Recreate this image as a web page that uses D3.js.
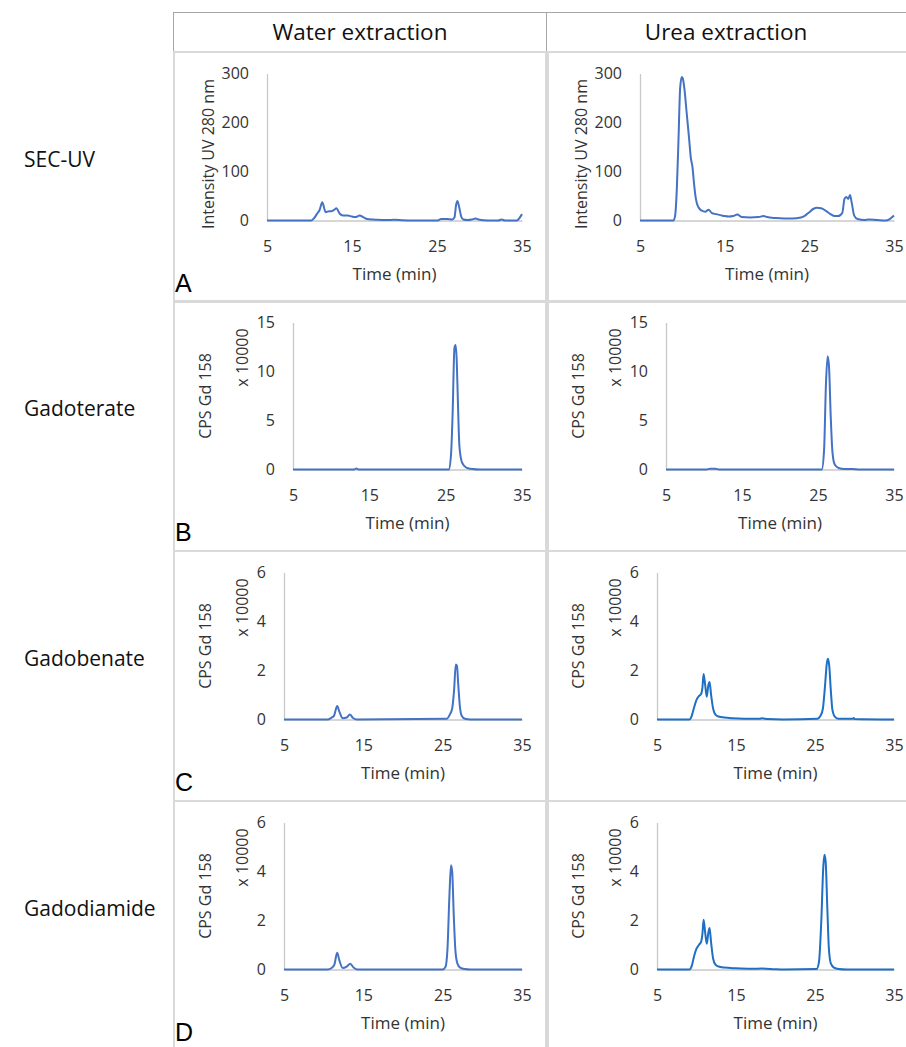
<!DOCTYPE html>
<html>
<head>
<meta charset="utf-8">
<script src="https://cdnjs.cloudflare.com/ajax/libs/d3/7.8.5/d3.min.js"></script>
<style>
  body { margin: 0; background: #fff; }
  svg { display: block; }
</style>
</head>
<body>
<script>
// column / row headings
const columns = ["Water extraction", "Urea extraction"];
const rowLabels = ["SEC-UV", "Gadoterate", "Gadobenate", "Gadodiamide"];
const panelLetters = ["A", "B", "C", "D"];

// tick values
const timeTicks = [5, 15, 25, 35];
const uvTicks = [0, 100, 200, 300];
const gdTicksB = [0, 5, 10, 15];
const gdTicksCD = [0, 2, 4, 6];

// SEC-UV traces, [time (min), intensity]
const uvWater = [[5,0],[10.2,0],[10.5,4],[10.9,14],[11.2,22],[11.5,37],[11.9,17],[12.3,19],[12.6,19],[13.0,23],[13.15,25],[13.6,13],[14.0,10],[14.5,10],[15.0,8],[15.4,7],[15.9,10],[16.3,7],[16.8,3],[17.5,2],[18,1.5],[19,1],[20,1.5],[21,0.5],[22,0],[25,0],[25.5,3],[26.2,3],[26.8,2],[27.05,6],[27.25,32],[27.4,40],[27.6,28],[27.85,8],[28.1,2],[28.6,1],[29.1,2],[29.5,4],[30,1.5],[31,0],[32.2,0],[32.6,2],[33,0],[34.4,0],[34.7,5],[35,13]];
const uvUrea = [[5,0],[8.95,0],[9.15,10],[9.35,65],[9.55,167],[9.74,270],[9.93,293],[10.05,290],[10.25,268],[10.5,222],[10.8,167],[11.0,128],[11.2,109],[11.4,72],[11.6,44],[11.9,27],[12.3,20],[12.7,18],[13.1,22],[13.5,15],[14,13],[14.5,11],[15,9],[15.5,8],[16,9],[16.5,12],[17,7],[18,6],[19,7],[19.6,9],[20,7],[21,5],[22,4],[23,4],[24,6],[24.5,10],[25,17],[25.5,24],[25.9,26],[26.4,25],[27,19],[27.5,13],[28,9],[28.4,9],[28.9,16],[29.15,44],[29.35,48],[29.6,44],[29.8,52],[30.0,37],[30.3,10],[30.7,3],[31.5,1],[32,2],[33,1],[34,0],[34.5,3],[35,10]];

// Gd 158 traces, [time (min), CPS / 10000]
const gdtWater = [[5,0],[13.0,0],[13.3,0.1],[13.6,0],[25.4,0],[25.7,1.5],[25.9,5.4],[26.15,12.4],[26.3,12.7],[26.45,11.1],[26.6,7],[26.8,2.4],[27.15,0.7],[27.7,0.2],[28.5,0.05],[29.5,0],[35,0]];
const gdtUrea = [[5,0],[10.3,0],[10.8,0.08],[11.5,0.08],[12,0],[25.5,0],[25.8,2],[26.05,8.8],[26.27,11.55],[26.45,10.5],[26.67,5.5],[26.9,1.8],[27.2,0.5],[27.7,0.15],[28.5,0.05],[29.5,0.05],[30.5,0],[35,0]];
const gdbWater = [[5,0],[10.5,0],[11.0,0.08],[11.3,0.15],[11.7,0.55],[12.0,0.3],[12.4,0.05],[12.9,0.08],[13.3,0.2],[13.7,0.06],[14.2,0],[25.5,0.03],[25.9,0.2],[26.2,0.45],[26.45,1.25],[26.65,2.25],[26.8,2.2],[26.95,1.5],[27.15,0.6],[27.4,0.15],[27.8,0.03],[28.5,0],[35,0]];
const gdbUrea = [[5,0],[9.1,0],[9.4,0.15],[9.7,0.5],[10.0,0.8],[10.3,0.95],[10.6,1.05],[10.75,1.3],[10.9,1.86],[11.1,1.4],[11.3,0.93],[11.5,1.4],[11.65,1.53],[11.85,1.0],[12.1,0.45],[12.4,0.2],[12.8,0.12],[13.5,0.08],[14.5,0.05],[16,0.03],[18,0.03],[18.3,0.05],[19,0.02],[21,0],[25.3,0.03],[25.7,0.15],[26.0,0.45],[26.25,1.3],[26.5,2.3],[26.65,2.48],[26.8,2.2],[27.0,1.2],[27.2,0.4],[27.5,0.12],[28,0.03],[29.8,0.03],[29.9,0.06],[30,0.02],[35,0]];
const gddWater = [[5,0],[10.5,0],[11.0,0.06],[11.35,0.2],[11.7,0.68],[12.0,0.35],[12.4,0.06],[12.9,0.12],[13.35,0.23],[13.8,0.07],[14.3,0],[25.0,0],[25.35,0.1],[25.6,0.8],[25.85,3.0],[26.05,4.26],[26.2,4.0],[26.4,2.2],[26.6,0.8],[26.85,0.25],[27.2,0.08],[27.8,0.02],[28.5,0],[35,0]];
const gddUrea = [[5,0],[9.1,0],[9.4,0.15],[9.7,0.55],[10.0,0.85],[10.3,1.0],[10.6,1.15],[10.75,1.45],[10.9,2.03],[11.1,1.5],[11.3,1.05],[11.5,1.5],[11.65,1.69],[11.85,1.1],[12.1,0.45],[12.4,0.2],[12.8,0.12],[13.5,0.08],[15,0.05],[17,0.03],[18.3,0.04],[20,0.01],[21,0],[25.2,0.02],[25.5,0.3],[25.8,2.0],[26.05,4.2],[26.2,4.68],[26.35,4.4],[26.55,2.6],[26.75,0.9],[27.0,0.25],[27.4,0.08],[28,0.02],[29,0],[35,0]];

// one row of the figure per compound
const rows = [
  { ticks: uvTicks,   series: [uvWater, uvUrea],   title: ["Intensity UV 280 nm"] },
  { ticks: gdTicksB,  series: [gdtWater, gdtUrea], title: ["CPS Gd 158", "x 10000"] },
  { ticks: gdTicksCD, series: [gdbWater, gdbUrea], title: ["CPS Gd 158", "x 10000"] },
  { ticks: gdTicksCD, series: [gddWater, gddUrea], title: ["CPS Gd 158", "x 10000"] }
];

const W = 906, H = 1047;
const colX = [173, 547], colW = [374, 362];
const rowY = [52, 301, 551, 801], rowH = 250;
const plotLeft = [94, 120, 111, 111];   // offset of y axis inside a cell, per row
const chartFont = "'Open Sans', sans-serif";

const svg = d3.select("body").append("svg")
    .attr("width", W)
    .attr("height", H);

svg.append("rect").attr("width", W).attr("height", H).attr("fill", "#fff");

// header box
svg.append("rect")
    .attr("x", colX[0] + 0.5).attr("y", 12.5)
    .attr("width", W - colX[0] + 5).attr("height", 40)
    .attr("fill", "none").attr("stroke", "#a6a6a6");
svg.append("line")
    .attr("x1", colX[1] - 0.5).attr("x2", colX[1] - 0.5)
    .attr("y1", 12).attr("y2", 53)
    .attr("stroke", "#a6a6a6");

svg.selectAll("text.col")
  .data(columns)
  .enter().append("text")
    .attr("class", "col")
    .attr("x", (d, i) => colX[i] + colW[i] / 2 - (i ? 2 : 0))
    .attr("y", 40)
    .attr("text-anchor", "middle")
    .style("font-family", chartFont)
    .style("font-size", "22.5px")
    .attr("fill", "#111")
    .text(d => d);

// row labels
svg.selectAll("text.row")
  .data(rowLabels)
  .enter().append("text")
    .attr("class", "row")
    .attr("x", 24)
    .attr("y", (d, i) => rowY[i] + 115)
    .style("font-family", chartFont)
    .style("font-size", "21px")
    .attr("fill", "#111")
    .text(d => d);

let line = d3.line()
    .x(d => d[0])
    .y(d => d[1])
    .curve(d3.curveMonotoneX);

rows.forEach(function(row, r) {
  columns.forEach(function(col, c) {
    let cx = colX[c], cy = rowY[r];

    // chart frame
    svg.append("rect")
        .attr("x", cx + 1)
        .attr("y", cy)
        .attr("width", colW[c] - 2)
        .attr("height", r == 3 ? H - cy + 5 : rowH)
        .attr("fill", "none")
        .attr("stroke", "#d9d9d9")
        .attr("stroke-width", 2);

    let left = cx + plotLeft[r] - c,
        right = cx + (c ? 347 : 349),
        top = cy + 21.5,
        bottom = cy + 168.5;

    let x = d3.scaleLinear().domain([5, 35]).range([left, right]);
    let y = d3.scaleLinear().domain([0, d3.max(row.ticks)]).range([bottom, top]);

    let g = svg.append("g");

    let xAxis = g.append("g")
        .attr("transform", `translate(0,${bottom})`)
        .call(d3.axisBottom(x).tickValues(timeTicks).tickFormat(d3.format("d"))
          .tickSize(0).tickPadding(20));

    let yAxis = g.append("g")
        .attr("transform", `translate(${left},0)`)
        .call(d3.axisLeft(y).tickValues(row.ticks).tickFormat(d3.format("d"))
          .tickSize(0).tickPadding(18));

    [xAxis, yAxis].forEach(a => {
      a.select(".domain").attr("stroke", "#c8c8c8").attr("stroke-width", 1.3);
      a.selectAll("text")
          .style("font-family", chartFont)
          .style("font-size", "16px")
          .attr("fill", "#333");
    });

    // trace
    let color = (c == 1 && r >= 2) ? "#1f6fc5" : "#4472c4";
    g.append("path")
        .datum(row.series[c].map(d => [x(d[0]), y(d[1])]))
        .attr("d", line)
        .attr("fill", "none")
        .attr("stroke", color)
        .attr("stroke-width", 2)
        .attr("stroke-linejoin", "round");

    // x axis title
    g.append("text")
        .attr("x", (left + right) / 2)
        .attr("y", bottom + 59)
        .attr("text-anchor", "middle")
        .style("font-family", chartFont)
        .style("font-size", "17px")
        .attr("fill", "#333")
        .text("Time (min)");

    // y axis title (one or two rotated lines)
    if (row.title.length == 1) {
      g.append("text")
          .attr("transform", `translate(${left - 59},${(top + bottom) / 2 + 7}) rotate(-90)`)
          .attr("text-anchor", "middle")
          .attr("dy", "0.35em")
          .style("font-family", chartFont)
          .style("font-size", "16px")
          .attr("fill", "#333")
          .text(row.title[0]);
    } else {
      let off = r == 1 ? [88, 51] : [79, 42];
      g.append("text")
          .attr("transform", `translate(${left - off[0]},${(top + bottom) / 2}) rotate(-90)`)
          .attr("text-anchor", "middle")
          .attr("dy", "0.35em")
          .style("font-family", chartFont)
          .style("font-size", "16px")
          .attr("fill", "#333")
          .text(row.title[0]);
      g.append("text")
          .attr("transform", `translate(${left - off[1]},${top + 35}) rotate(-90)`)
          .attr("text-anchor", "middle")
          .attr("dy", "0.35em")
          .style("font-family", chartFont)
          .style("font-size", "16px")
          .attr("fill", "#333")
          .text(row.title[1]);
    }

    // panel letter
    if (c == 0) {
      g.append("text")
          .attr("x", cx + 2)
          .attr("y", cy + 240)
          .style("font-family", "'Liberation Sans', Arial, sans-serif")
          .style("font-size", "25px")
          .attr("fill", "#000")
          .text(panelLetters[r]);
    }
  });
});
</script>
</body>
</html>
